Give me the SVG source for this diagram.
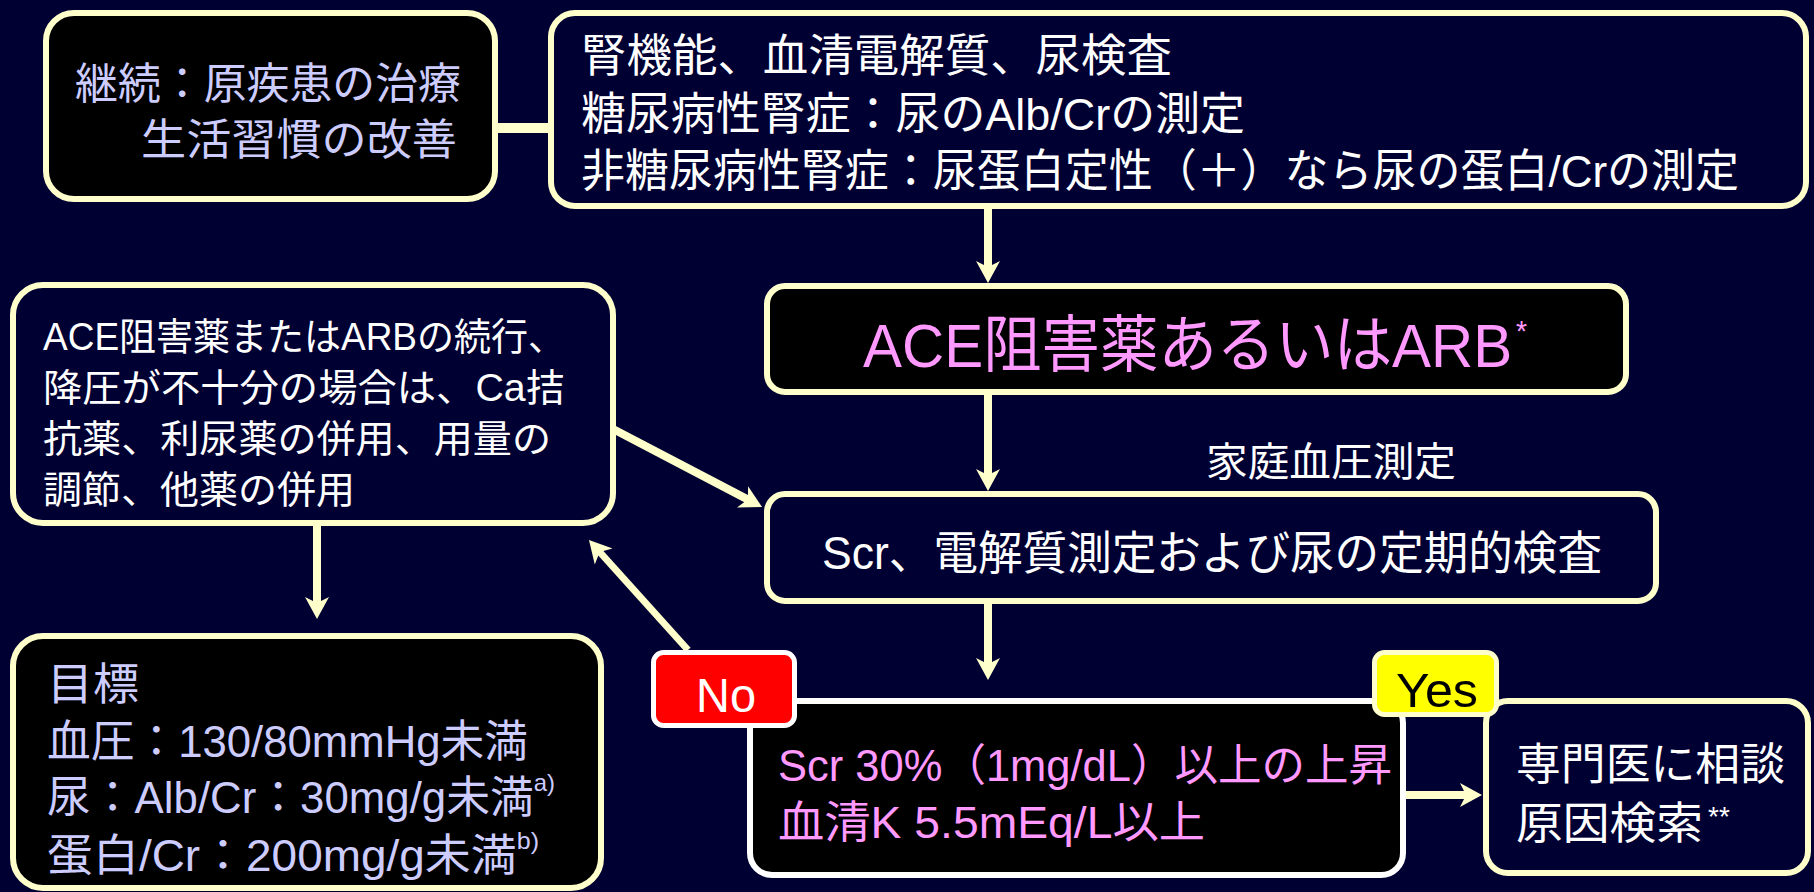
<svg xmlns="http://www.w3.org/2000/svg" width="1814" height="892" viewBox="0 0 1814 892">
<defs>
<style>
.box{stroke:#FFFFCC;stroke-width:6}
.blk{fill:#000000}
.nav{fill:#000033}
.t{font-family:"Liberation Sans","Noto Sans CJK JP",sans-serif}
.wh{fill:#FFFFFF}
.lav{fill:#CCCCFF}
.pk{fill:#FF99FF}
.con{stroke:#FFFFCC;fill:none}
</style>
<marker id="ah" markerUnits="userSpaceOnUse" markerWidth="24" markerHeight="26" refX="10" refY="12" orient="auto" viewBox="0 0 24 26">
<path d="M0,0 L22,12 L0,24 L6,12 Z" fill="#FFFFCC"/>
</marker>
</defs>
<rect x="0" y="0" width="1814" height="892" fill="#000033"/>

<g id="connectors">
<line class="con" x1="498" y1="128" x2="550" y2="128" stroke-width="10"/>
<line class="con" x1="988" y1="208" x2="988" y2="271" stroke-width="8" marker-end="url(#ah)"/>
<line class="con" x1="988" y1="395" x2="988" y2="479" stroke-width="8" marker-end="url(#ah)"/>
<line class="con" x1="988" y1="603" x2="988" y2="668" stroke-width="8" marker-end="url(#ah)"/>
<line class="con" x1="317" y1="525" x2="317" y2="607" stroke-width="8" marker-end="url(#ah)"/>
<line class="con" x1="613" y1="429" x2="751.4" y2="501.4" stroke-width="8" marker-end="url(#ah)"/>
<line class="con" x1="688" y1="650" x2="597" y2="549" stroke-width="7" marker-end="url(#ah)"/>
<line class="con" x1="1405" y1="795" x2="1470" y2="795" stroke-width="8" marker-end="url(#ah)"/>
</g>

<g id="nodeA">
<rect class="box blk" x="46" y="13" width="449" height="186" rx="28"/>
<text class="t lav" x="75" y="99" font-size="43" textLength="386" lengthAdjust="spacingAndGlyphs">継続：原疾患の治療</text>
<text class="t lav" x="141" y="155" font-size="43" textLength="316" lengthAdjust="spacingAndGlyphs">生活習慣の改善</text>
</g>

<g id="nodeB">
<rect class="box nav" x="551" y="13" width="1255" height="193" rx="24"/>
<text class="t wh" x="581" y="72" font-size="45" textLength="591" lengthAdjust="spacingAndGlyphs">腎機能、血清電解質、尿検査</text>
<text class="t wh" x="581" y="130" font-size="45" textLength="664" lengthAdjust="spacingAndGlyphs">糖尿病性腎症：尿のAlb/Crの測定</text>
<text class="t wh" x="581" y="187" font-size="45" textLength="1158" lengthAdjust="spacingAndGlyphs">非糖尿病性腎症：尿蛋白定性（＋）なら尿の蛋白/Crの測定</text>
</g>

<g id="nodeC">
<rect class="box blk" x="767" y="286" width="859" height="106" rx="18"/>
<text class="t pk" x="863" y="367" font-size="62" textLength="664" lengthAdjust="spacingAndGlyphs">ACE阻害薬あるいはARB<tspan font-size="30" dx="4" dy="-26">*</tspan></text>
</g>

<g id="label-home">
<text class="t wh" x="1206" y="476" font-size="40" textLength="250" lengthAdjust="spacingAndGlyphs">家庭血圧測定</text>
</g>

<g id="nodeD">
<rect class="box nav" x="767" y="494" width="889" height="107" rx="18"/>
<text class="t wh" x="822" y="569" font-size="46" textLength="780" lengthAdjust="spacingAndGlyphs">Scr、電解質測定および尿の定期的検査</text>
</g>

<g id="nodeG">
<rect class="box nav" x="13" y="285" width="600" height="238" rx="30"/>
<text class="t wh" x="43" y="350" font-size="38" textLength="522" lengthAdjust="spacingAndGlyphs">ACE阻害薬またはARBの続行、</text>
<text class="t wh" x="43" y="401" font-size="38" textLength="522" lengthAdjust="spacingAndGlyphs">降圧が不十分の場合は、Ca拮</text>
<text class="t wh" x="43" y="452" font-size="38" textLength="508" lengthAdjust="spacingAndGlyphs">抗薬、利尿薬の併用、用量の</text>
<text class="t wh" x="43" y="503" font-size="38" textLength="312" lengthAdjust="spacingAndGlyphs">調節、他薬の併用</text>
</g>

<g id="nodeH">
<rect class="box blk" x="13" y="636" width="588" height="252" rx="30"/>
<text class="t lav" x="47" y="700" font-size="44" textLength="92" lengthAdjust="spacingAndGlyphs">目標</text>
<text class="t lav" x="47" y="757" font-size="44" textLength="481" lengthAdjust="spacingAndGlyphs">血圧：130/80mmHg未満</text>
<text class="t lav" x="47" y="813" font-size="44" textLength="508" lengthAdjust="spacingAndGlyphs">尿：Alb/Cr：30mg/g未満<tspan font-size="24" dy="-22">a)</tspan></text>
<text class="t lav" x="47" y="871" font-size="44" textLength="492" lengthAdjust="spacingAndGlyphs">蛋白/Cr：200mg/g未満<tspan font-size="24" dy="-22">b)</tspan></text>
</g>

<g id="nodeE">
<rect x="750" y="701" width="653" height="174" rx="22" fill="#000000" stroke="#FFFFFF" stroke-width="6"/>
<text class="t pk" x="778" y="781" font-size="44" textLength="614" lengthAdjust="spacingAndGlyphs">Scr 30%（1mg/dL）以上の上昇</text>
<text class="t pk" x="778" y="838" font-size="44" textLength="427" lengthAdjust="spacingAndGlyphs">血清K 5.5mEq/L以上</text>
</g>

<g id="nodeF">
<rect class="box nav" x="1486" y="701" width="322" height="172" rx="22"/>
<text class="t wh" x="1516" y="780" font-size="44" textLength="269" lengthAdjust="spacingAndGlyphs">専門医に相談</text>
<text class="t wh" x="1516" y="839" font-size="44" textLength="187" lengthAdjust="spacingAndGlyphs">原因検索</text>
<text class="t wh" x="1708" y="826" font-size="28">**</text>
</g>

<g id="label-no">
<rect x="653.5" y="652.5" width="141" height="73" rx="10" fill="#FF0000" stroke="#FFFFFF" stroke-width="5"/>
<text class="t wh" x="726" y="712" font-size="48" text-anchor="middle" textLength="60" lengthAdjust="spacingAndGlyphs">No</text>
</g>

<g id="label-yes">
<rect x="1374.5" y="652.5" width="122" height="62" rx="10" fill="#FFFF00" stroke="#FFFFCC" stroke-width="5"/>
<text class="t" x="1437" y="707" font-size="48" fill="#000000" text-anchor="middle" textLength="82" lengthAdjust="spacingAndGlyphs">Yes</text>
</g>
</svg>
